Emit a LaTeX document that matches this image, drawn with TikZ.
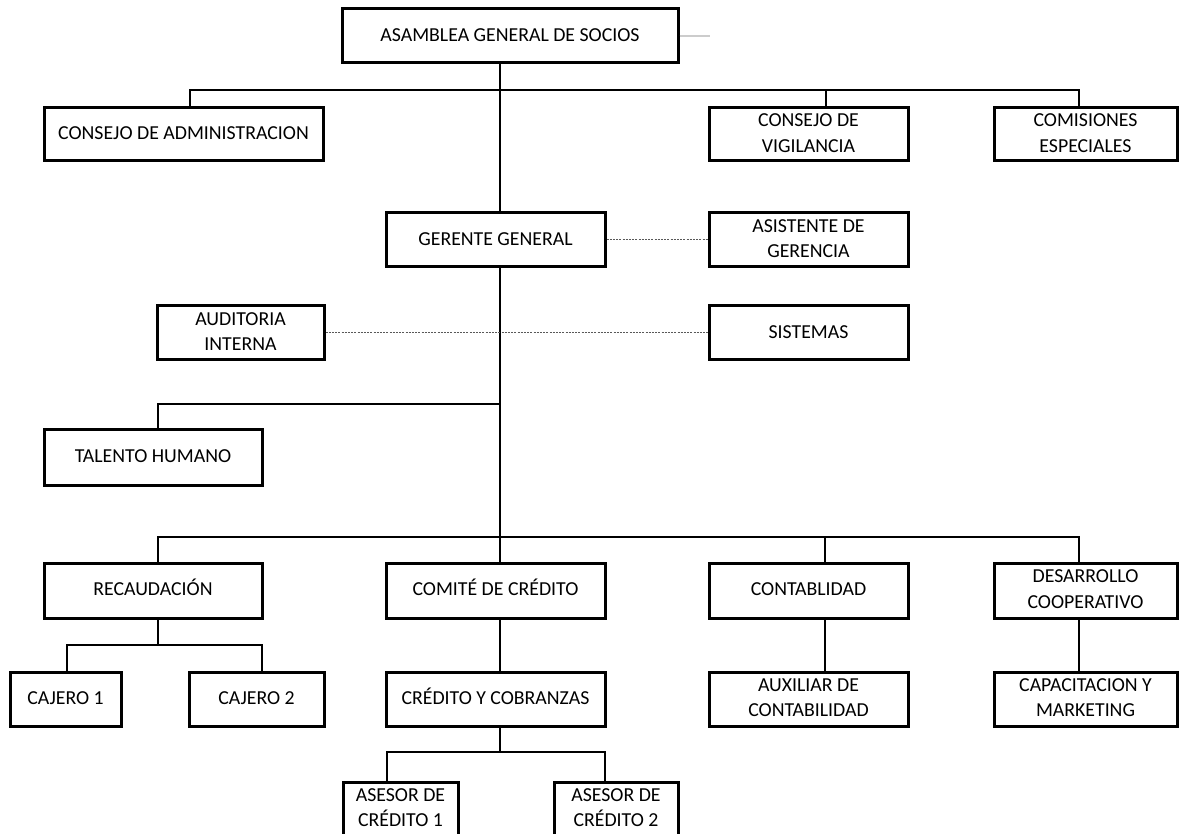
\documentclass[tikz,border=0pt]{standalone}
\usepackage{fontspec}
\setmainfont{Carlito}
\tikzset{
  box/.style={draw=black, line width=1.5pt, inner sep=0pt, align=center,
    font=\fontsize{9.9}{12.6}\selectfont},
  conn/.style={line width=1pt, line cap=rect},
  dots/.style={draw=black!65, line width=0.5pt, dash pattern=on 1pt off 0.6pt},
  faint/.style={draw=black!20, line width=0.8pt},
}
% \bx{name}{x1}{y1}{x2}{y2}{text}
\newcommand{\bx}[6]{%
  \node[box, minimum width={(#4-#2)*0.5pt}, minimum height={(#5-#3)*0.5pt}]
    (#1) at ({(#2+#4)/2},{(#3+#5)/2}) {\strut#6\strut};}
\begin{document}
\begin{tikzpicture}[x=0.5pt,y=-0.5pt]
\clip (0,0) rectangle (1179,834);
\fill[white] (0,0) rectangle (1179,834);

% boxes
\bx{asm}{342}{9}{678}{63}{ASAMBLEA GENERAL DE SOCIOS}
\bx{cadm}{44}{108}{323}{161}{CONSEJO DE ADMINISTRACION}
\bx{cvig}{709}{108}{908}{161}{CONSEJO DE\\VIGILANCIA}
\bx{com}{994}{108}{1177}{161}{COMISIONES\\ESPECIALES}
\bx{gg}{386}{213}{605}{267}{GERENTE GENERAL}
\bx{asis}{709}{213}{908}{267}{ASISTENTE DE\\GERENCIA}
\bx{aud}{157}{306}{324}{360}{AUDITORIA\\INTERNA}
\bx{sis}{709}{306}{908}{360}{SISTEMAS}
\bx{th}{44}{430}{262}{485}{TALENTO HUMANO}
\bx{rec}{44}{563}{262}{618}{RECAUDACIÓN}
\bx{comite}{386}{563}{605}{618}{COMITÉ DE CRÉDITO}
\bx{cont}{709}{563}{908}{618}{CONTABLIDAD}
\bx{des}{994}{563}{1177}{618}{DESARROLLO\\COOPERATIVO}
\bx{caj1}{10}{672}{121}{726}{CAJERO 1}
\bx{caj2}{189}{672}{324}{726}{CAJERO 2}
\bx{cyc}{386}{672}{605}{726}{CRÉDITO Y COBRANZAS}
\bx{aux}{709}{672}{908}{726}{AUXILIAR DE\\CONTABILIDAD}
\bx{cap}{994}{672}{1177}{726}{CAPACITACION Y\\MARKETING}
\bx{ase1}{343}{782}{458}{836}{ASESOR DE\\CRÉDITO 1}
\bx{ase2}{554}{782}{678}{836}{ASESOR DE\\CRÉDITO 2}

% junction coordinates
\coordinate (tx) at (500,0);
\coordinate (h1L) at (190,90);
\coordinate (h1V) at (826,90);
\coordinate (h1R) at (1079,90);
\coordinate (j3) at (500,404);
\coordinate (h3L) at (158,404);
\coordinate (h4L) at (158,537);
\coordinate (j4) at (500,537);
\coordinate (h4V) at (825,537);
\coordinate (h4R) at (1079,537);
\coordinate (r1) at (158,645);
\coordinate (r1L) at (67,645);
\coordinate (r1R) at (262,645);
\coordinate (c1) at (500,752);
\coordinate (c1L) at (387,752);
\coordinate (c1R) at (605,752);
\coordinate (gl) at (710,36);

% connectors
\draw[faint] (asm.east) -- (gl);
\draw[conn] (asm.south -| tx) -- (gg.north -| tx);
\draw[conn] (h1L) -- (h1R);
\draw[conn] (h1L) -- (cadm.north -| h1L);
\draw[conn] (h1V) -- (cvig.north -| h1V);
\draw[conn] (h1R) -- (com.north -| h1R);
\draw[conn] (gg.south -| tx) -- (j4);
\draw[dots] (gg.east) -- (asis.west);
\draw[dots] (aud.east) -- (sis.west);
\draw[conn] (j3) -- (h3L) -- (th.north -| h3L);
\draw[conn] (h4L) -- (h4R);
\draw[conn] (h4L) -- (rec.north -| h4L);
\draw[conn] (j4) -- (comite.north -| j4);
\draw[conn] (h4V) -- (cont.north -| h4V);
\draw[conn] (h4R) -- (des.north -| h4R);
\draw[conn] (rec.south -| r1) -- (r1);
\draw[conn] (r1L) -- (r1R);
\draw[conn] (r1L) -- (caj1.north -| r1L);
\draw[conn] (r1R) -- (caj2.north -| r1R);
\draw[conn] (comite.south -| j4) -- (cyc.north -| j4);
\draw[conn] (cont.south -| h4V) -- (aux.north -| h4V);
\draw[conn] (des.south -| h4R) -- (cap.north -| h4R);
\draw[conn] (cyc.south -| c1) -- (c1);
\draw[conn] (c1L) -- (c1R);
\draw[conn] (c1L) -- (ase1.north -| c1L);
\draw[conn] (c1R) -- (ase2.north -| c1R);
\end{tikzpicture}
\end{document}
